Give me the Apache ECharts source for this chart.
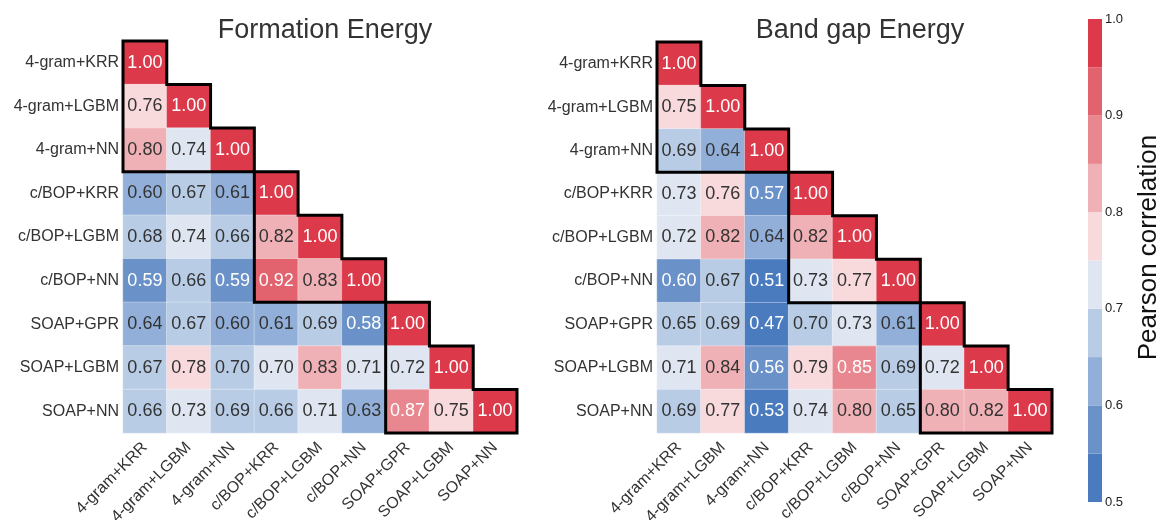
<!DOCTYPE html>
<html>
<head>
<meta charset="utf-8">
<script src="https://cdn.jsdelivr.net/npm/echarts@6/dist/echarts.min.js"></script>
<style>
  html, body { margin: 0; padding: 0; background: #fff; }
  #chart { width: 1162px; height: 520px; }
</style>
</head>
<body>
<div id="chart"></div>
<script>
// ---------- data ----------
const categories = ['4-gram+KRR', '4-gram+LGBM', '4-gram+NN', 'c/BOP+KRR', 'c/BOP+LGBM', 'c/BOP+NN', 'SOAP+GPR', 'SOAP+LGBM', 'SOAP+NN'];

const titles = ['Formation Energy', 'Band gap Energy'];

// lower-triangle rows (row i has i+1 values)
const formationRows = [
  [1.00],
  [0.76, 1.00],
  [0.80, 0.74, 1.00],
  [0.60, 0.67, 0.61, 1.00],
  [0.68, 0.74, 0.66, 0.82, 1.00],
  [0.59, 0.66, 0.59, 0.92, 0.83, 1.00],
  [0.64, 0.67, 0.60, 0.61, 0.69, 0.58, 1.00],
  [0.67, 0.78, 0.698, 0.70, 0.83, 0.71, 0.72, 1.00],
  [0.66, 0.73, 0.69, 0.66, 0.71, 0.63, 0.87, 0.75, 1.00]
];

const bandgapRows = [
  [1.00],
  [0.75, 1.00],
  [0.69, 0.64, 1.00],
  [0.73, 0.76, 0.57, 1.00],
  [0.72, 0.82, 0.64, 0.82, 1.00],
  [0.598, 0.67, 0.51, 0.73, 0.77, 1.00],
  [0.65, 0.69, 0.47, 0.698, 0.73, 0.61, 1.00],
  [0.71, 0.84, 0.56, 0.79, 0.85, 0.69, 0.72, 1.00],
  [0.69, 0.77, 0.53, 0.74, 0.80, 0.65, 0.80, 0.82, 1.00]
];

// diagonal groups outlined in black: [first index, last index]
const blocks = [[0, 2], [3, 5], [6, 8]];

// colour bar bins and ticks
const binEdges = [0.5, 0.55, 0.6, 0.65, 0.7, 0.75, 0.8, 0.85, 0.9, 0.95, 1.0];
const colorbarTicks = [0.5, 0.6, 0.7, 0.8, 0.9, 1.0];
const colorbarLabel = 'Pearson correlation';

// ---------- styles ----------
const binColors = ['#4a7bbf', '#6a92c9', '#91afd8', '#b8cce6', '#dfe6f2',
                   '#f8dadd', '#f0b1b6', '#e8878f', '#e2626d', '#dc3a4a'];
const FONT = '"Liberation Sans", Arial, sans-serif';
const TEXT = '#333';

function toHeat(rows) {
  const out = [];
  rows.forEach((row, r) => row.forEach((v, c) => {
    const light = v < 0.6 || v >= 0.845;
    out.push({ value: [c, r, v], label: { color: light ? '#fff' : '#333' } });
  }));
  return out;
}

const pieces = binColors.map((col, i) => {
  const p = { color: col };
  if (i > 0) p.gte = binEdges[i];
  if (i < binColors.length - 1) p.lt = binEdges[i + 1];
  return p;
});

const grids = [
  { left: 123, top: 41, width: 394, height: 392, outerBoundsMode: 'none', containLabel: false },
  { left: 657, top: 42, width: 395, height: 391, outerBoundsMode: 'none', containLabel: false },
  { left: 1088, top: 19, width: 14, height: 483, outerBoundsMode: 'none', containLabel: false }
];

function catX(gi) {
  return {
    type: 'category', gridIndex: gi, data: categories,
    axisLine: { show: false }, axisTick: { show: false }, splitArea: { show: false },
    axisLabel: { rotate: 45, fontSize: 16, fontFamily: FONT, color: TEXT, margin: 12, interval: 0 }
  };
}
function catY(gi) {
  return {
    type: 'category', gridIndex: gi, data: categories, inverse: true,
    axisLine: { show: false }, axisTick: { show: false }, splitArea: { show: false },
    axisLabel: { fontSize: 16, fontFamily: FONT, color: TEXT, margin: 4, interval: 0 }
  };
}

function outlineSeries(gi) {
  return {
    type: 'custom', xAxisIndex: gi, yAxisIndex: gi, z: 10, clip: false,
    data: blocks.map(b => [b[0], b[1]]),
    renderItem: function (params, api) {
      const a = api.value(0), b = api.value(1);
      const sz = api.size([1, 1]);
      const w = sz[0], h = sz[1];
      const pt = (col, row, dx, dy) => {
        const p = api.coord([col, row]);
        return [p[0] + dx * w, p[1] + dy * h];
      };
      const pts = [pt(a, a, -0.5, -0.5)];
      for (let k = a; k <= b; k++) {
        pts.push(pt(k, k, 0.5, -0.5));
        pts.push(pt(k, k, 0.5, 0.5));
      }
      pts.push(pt(a, b, -0.5, 0.5));
      return {
        type: 'polygon',
        shape: { points: pts },
        style: { fill: 'none', stroke: '#000', lineWidth: 3, lineJoin: 'miter' }
      };
    }
  };
}

function heatSeries(gi, rows) {
  return {
    type: 'heatmap', xAxisIndex: gi, yAxisIndex: gi,
    data: toHeat(rows),
    itemStyle: { borderColor: 'rgba(255,255,255,0.35)', borderWidth: 1 },
    label: {
      show: true, fontSize: 18, fontFamily: FONT,
      formatter: p => p.value[2].toFixed(2)
    },
    emphasis: { disabled: true }
  };
}

const option = {
  animation: false,
  backgroundColor: '#fff',
  title: titles.map((t, i) => ({
    text: t, left: i === 0 ? 320 : 855, top: 12, textAlign: 'center',
    textStyle: { fontSize: 27, fontWeight: 'normal', fontFamily: FONT, color: TEXT }
  })),
  grid: grids,
  xAxis: [catX(0), catX(1), { type: 'category', gridIndex: 2, data: ['cb'], show: false }],
  yAxis: [catY(0), catY(1), {
    type: 'value', gridIndex: 2, min: 0.5, max: 1.0, interval: 0.1, position: 'right',
    axisLine: { show: false }, axisTick: { show: false }, splitLine: { show: false },
    axisLabel: { fontSize: 13, fontFamily: FONT, color: '#222', margin: 3,
      formatter: v => colorbarTicks.some(t => Math.abs(t - v) < 1e-6) ? v.toFixed(1) : '' },
    name: colorbarLabel, nameLocation: 'middle', nameRotate: 90, nameGap: 34,
    nameTextStyle: { fontSize: 26, fontFamily: FONT, color: '#111', padding: [0, 0, 0, 26] }
  }],
  visualMap: {
    type: 'piecewise', show: false, dimension: 2, seriesIndex: [0, 1],
    pieces: pieces
  },
  series: [
    heatSeries(0, formationRows),
    heatSeries(1, bandgapRows),
    outlineSeries(0),
    outlineSeries(1),
    {
      type: 'custom', xAxisIndex: 2, yAxisIndex: 2,
      data: binColors.map((c, i) => [0, binEdges[i], binEdges[i + 1]]),
      renderItem: function (params, api) {
        const lo = api.coord([0, api.value(1)]);
        const hi = api.coord([0, api.value(2)]);
        const w = api.size([1, 0])[0];
        return {
          type: 'rect',
          shape: { x: lo[0] - w / 2, y: hi[1], width: w, height: lo[1] - hi[1] },
          style: { fill: binColors[params.dataIndex] }
        };
      }
    }
  ]
};

const chart = echarts.init(document.getElementById('chart'), null, { renderer: 'canvas' });
chart.setOption(option);
</script>
</body>
</html>
